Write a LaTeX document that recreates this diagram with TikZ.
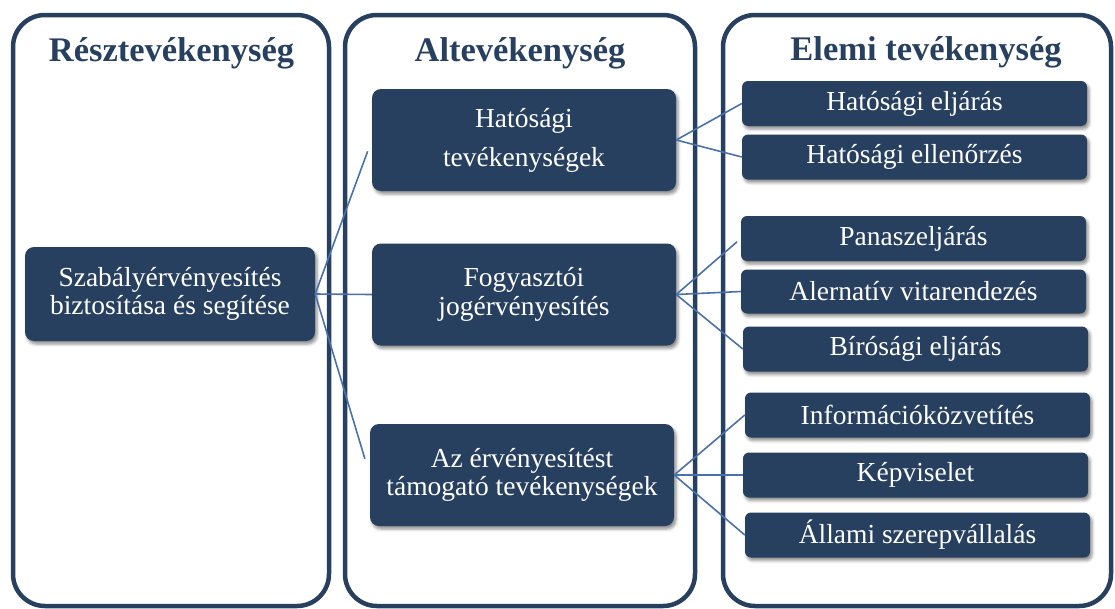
\documentclass[tikz,border=0pt]{standalone}
\usepackage{fontspec}
\setmainfont{Liberation Serif}
\usetikzlibrary{shadows.blur}
\definecolor{navy}{RGB}{39,64,96}
\definecolor{conn}{RGB}{74,114,170}
\begin{document}
\begin{tikzpicture}[x=1pt,y=-1pt,
  column/.style={draw=navy, line width=4.5pt, rounded corners=32pt},
  title/.style={text=navy, font=\bfseries\fontsize{34.5}{40}\selectfont, anchor=base, inner sep=0pt},
  box/.style={fill=navy, text=white, rounded corners=9pt, inner sep=0pt, align=center,
    font=\fontsize{27.5}{28.5}\selectfont,
    blur shadow={shadow xshift=2pt, shadow yshift=-3pt, shadow blur radius=3pt, shadow opacity=45}},
  bigbox/.style={box, minimum width=304pt, minimum height=102pt},
  smallbox/.style={box, rounded corners=6pt, minimum width=345pt, minimum height=45pt},
  link/.style={draw=conn, line width=1.6pt}]
\useasboundingbox (0,0) rectangle (1115,608);
% columns
\draw[column] (13,15) rectangle (329,606);
\draw[column] (345,15) rectangle (695,606);
\draw[column] (723,15) rectangle (1111,606);
% titles
\node[title] (t1) at (171.5,61) {Résztevékenység};
\node[title] (t2) at (520,61) {Altevékenység};
\node[title] (t3) at (926,60) {Elemi tevékenység};
% left box
\node[box, minimum width=290pt, minimum height=94pt] (L) at (170,294) {Szabályérvényesítés\\biztosítása és segítése};
% middle boxes
\node[bigbox, font=\fontsize{27.5}{39}\selectfont] (M1) at (524,140) {Hatósági\\tevékenységek};
\node[bigbox] (M2) at (524,294.5) {Fogyasztói\\jogérvényesítés};
\node[bigbox] (M3) at (522,475) {Az érvényesítést\\támogató tevékenységek};
% right boxes
\node[smallbox] (R1) at (914.5,103.5) {Hatósági eljárás};
\node[smallbox] (R2) at (914.5,157) {Hatósági ellenőrzés};
\node[smallbox] (R3) at (913.5,238.5) {Panaszeljárás};
\node[smallbox, minimum height=44pt] (R4) at (913.5,291.5) {Alernatív vitarendezés};
\node[smallbox] (R5) at (915.5,349) {Bírósági eljárás};
\node[smallbox] (R6) at (917.5,415) {Információközvetítés};
\node[smallbox] (R7) at (915.5,475) {Képviselet};
\node[smallbox] (R8) at (917.5,535) {Állami szerepvállalás};
% connectors
\draw[link, shorten >=12pt] (L.east) -- (M1.west);
\draw[link] (L.east) -- (M2.west);
\draw[link, shorten >=17pt] (L.east) -- (M3.west);
\draw[link] (M1.east) -- (R1.west);
\draw[link] (M1.east) -- (R2.west);
\draw[link, shorten >=5pt] (M2.east) -- (R3.west);
\draw[link] (M2.east) -- (R4.west);
\draw[link] (M2.east) -- (R5.west);
\draw[link] (M3.east) -- (R6.west);
\draw[link] (M3.east) -- (R7.west);
\draw[link] (M3.east) -- (R8.west);
\end{tikzpicture}
\end{document}
